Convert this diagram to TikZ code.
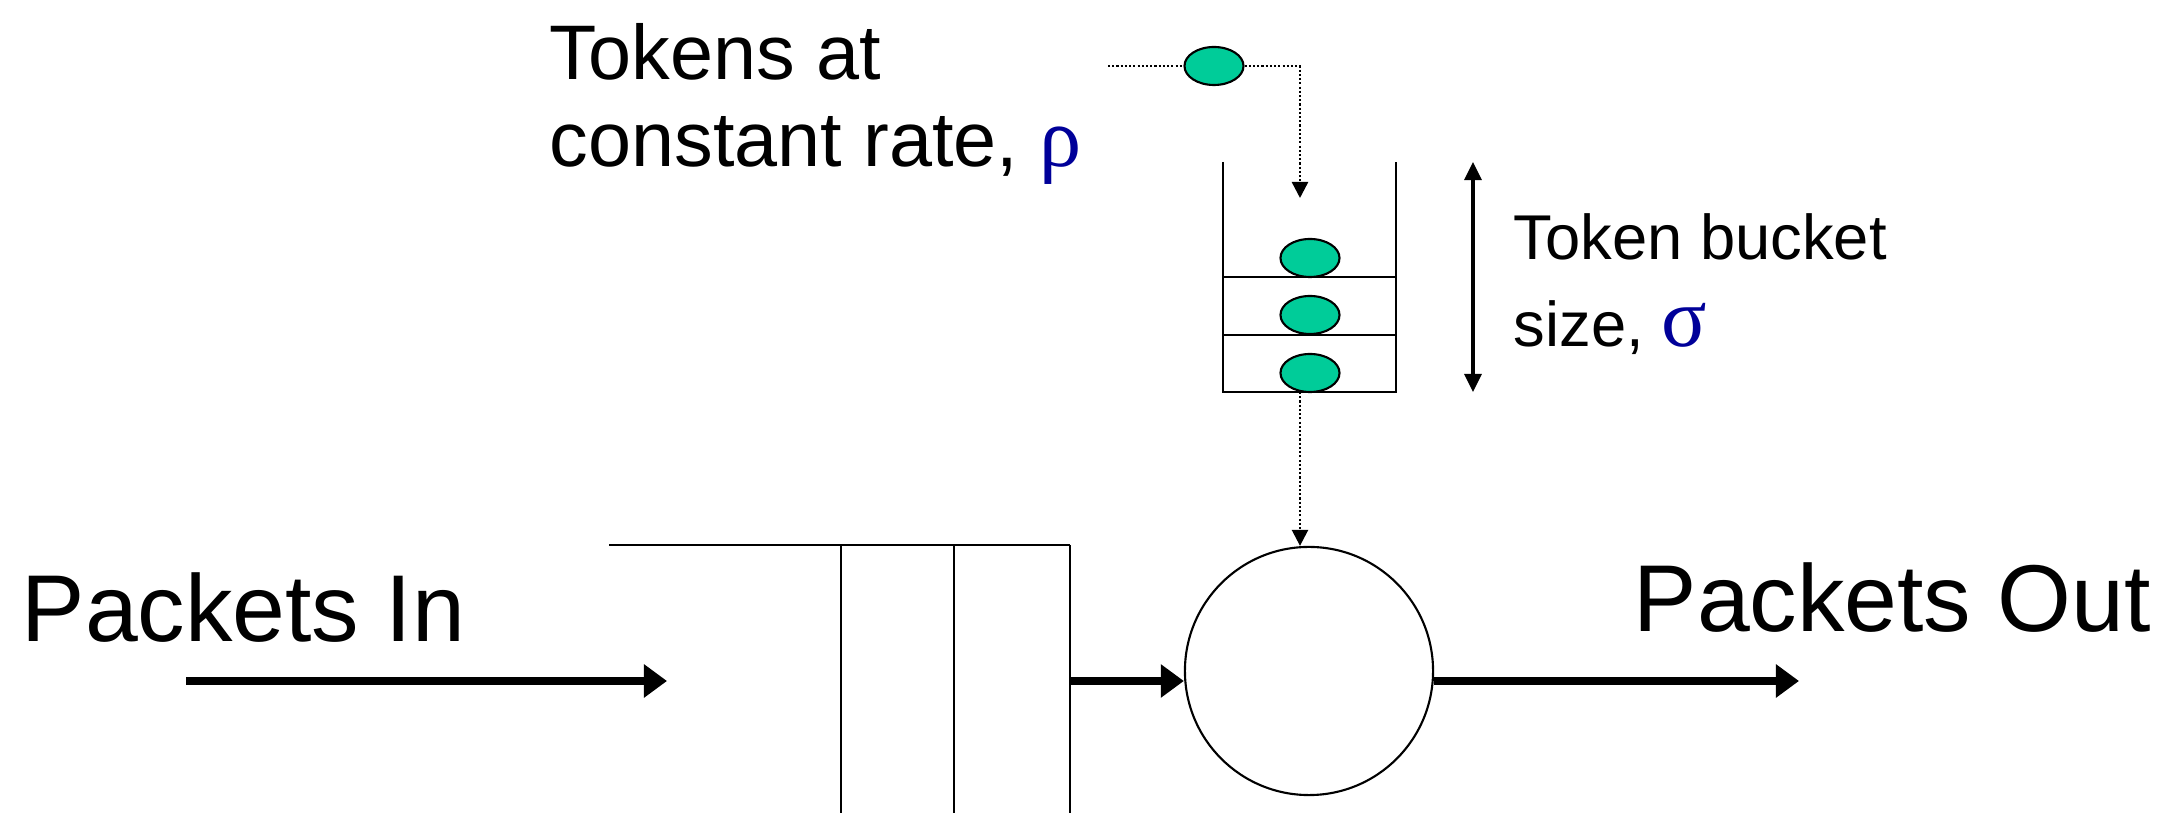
\documentclass[tikz,border=0pt]{standalone}
\usepackage{fontspec}
\setmainfont{Liberation Sans}
\newfontfamily\greekfont{Liberation Serif}
\usetikzlibrary{shapes.geometric, arrows.meta, positioning, calc}
\definecolor{tokenGreen}{RGB}{0,204,153}
\definecolor{symBlue}{RGB}{0,0,153}

\begin{document}
\begin{tikzpicture}[
    x=0.01cm, y=-0.01cm,
    token/.style={ellipse, draw, line width=0.6pt, fill=tokenGreen,
                minimum width=0.59cm, minimum height=0.38cm, inner sep=0pt},
    server/.style={circle, draw, line width=0.6pt,
                minimum size=2.48cm, inner sep=0pt},
    wall/.style={line width=0.6pt},
    dotArr/.style={line width=0.7pt, dash pattern=on 0.6pt off 0.6pt,
                -{Triangle[length=0.16cm, width=0.16cm]}},
    bigArr/.style={line width=2.3pt, -{Triangle[length=0.23cm, width=0.32cm]}},
    sizeArr/.style={line width=0.9pt,
                {Triangle[length=0.18cm, width=0.17cm]}-{Triangle[length=0.18cm, width=0.17cm]}},
    bigText/.style={inner sep=0pt, anchor=base west, font=\fontsize{27}{32}\selectfont},
    midText/.style={inner sep=0pt, anchor=base west, align=left, font=\fontsize{22}{25}\selectfont},
    smallText/.style={inner sep=0pt, anchor=base west, align=left, font=\fontsize{18}{25}\selectfont}
  ]
  \useasboundingbox (0,0) rectangle (2165,813);

  %% ---- Token source ----
  \coordinate (feed) at (1108,66);
  \node[token] (newTok) at (1214,66) {};
  \coordinate (bucketIn) at (1300,198);
  \node[midText] (rateLbl) at (549,167)
        {Tokens at\\constant rate, {\greekfont\fontsize{24}{25}\selectfont\color{symBlue}ρ}};

  \draw[dotArr, -] (feed) -- (newTok.west);
  \draw[dotArr] (newTok.east) -| (bucketIn);

  %% ---- Token bucket ----
  \draw[wall] (1223,162) -- (1223,392) -- (1396,392) -- (1396,162);
  \draw[wall] (1223,277) -- (1396,277);
  \draw[wall] (1223,335) -- (1396,335);
  \foreach \y/\n in {258/1, 315/2, 373/3}
    \node[token] (tok\n) at (1310,\y) {};
  \coordinate (bucketOut) at (1300,392);

  \coordinate (sizeTop) at (1473,162);
  \coordinate (sizeBot) at (1473,392);
  \draw[sizeArr] (sizeTop) -- (sizeBot);
  \node[smallText] (sizeLbl) at (1513,347)
        {Token bucket\\size, {\greekfont\fontsize{24}{25}\selectfont\color{symBlue}σ}};

  %% ---- Packet queue and server ----
  \draw[wall] (609,545) -- (1070,545);
  \foreach \x in {841,954,1070}
    \draw[wall] (\x,545) -- (\x,813);
  \coordinate (qOut) at (1070,681);
  \node[server] (server) at (1309,671) {};

  \draw[dotArr] (bucketOut) -- (bucketOut |- server.north);

  %% ---- Packet flow ----
  \coordinate (inStart) at (186,681);
  \coordinate (inEnd)   at (667,681);
  \coordinate (outEnd)  at (1799,681);
  \node[bigText] (inLbl)  at (21,642)   {Packets In};
  \node[bigText] (outLbl) at (1633,632) {Packets Out};

  \draw[bigArr] (inStart) -- (inEnd);
  \draw[bigArr] (qOut) -- (server.west |- qOut);
  \draw[bigArr] (server.east |- qOut) -- (outEnd);

\end{tikzpicture}
\end{document}
